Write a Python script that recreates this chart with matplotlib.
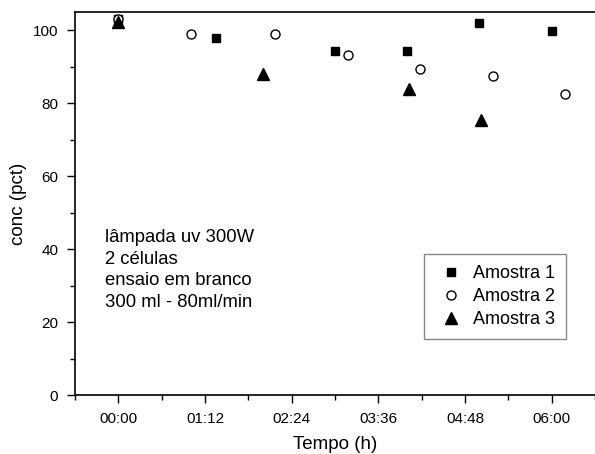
import matplotlib
matplotlib.use('Agg')
import matplotlib.pyplot as plt
from matplotlib.ticker import MultipleLocator, FuncFormatter

plt.rcParams['font.family'] = ['Liberation Sans', 'DejaVu Sans']

# tempo em horas, concentracao em pct
t1 = [0.0, 1.35, 3.0, 4.0, 5.0, 6.0]
a1 = [103.0, 97.9, 94.2, 94.2, 101.8, 99.8]

t2 = [0.0, 1.0, 2.17, 3.18, 4.18, 5.19, 6.19]
a2 = [103.0, 98.8, 98.8, 93.1, 89.3, 87.4, 82.6]

t3 = [0.0, 2.01, 4.02, 5.02]
a3 = [102.3, 88.0, 83.9, 75.5]

labels = ['Amostra 1', 'Amostra 2', 'Amostra 3']
nota = 'lâmpada uv 300W\n2 células\nensaio em branco\n300 ml - 80ml/min'


def hhmm(h, pos):
    m = int(round(h * 60))
    return '%02d:%02d' % (m // 60, m % 60)


fig = plt.figure(figsize=(5.95, 4.54), dpi=100)
ax = fig.add_axes([0.126, 0.129, 0.874, 0.845])

ax.plot(t1, a1, 's', color='black', markersize=6, label=labels[0])
ax.plot(t2, a2, 'o', markerfacecolor='white', markeredgecolor='black',
        markeredgewidth=1.0, markersize=6.5, label=labels[1])
ax.plot(t3, a3, '^', color='black', markersize=8, label=labels[2])

ax.set_xlim(-0.6, 6.6)
ax.set_ylim(0, 105)

ax.xaxis.set_major_locator(MultipleLocator(1.2))
ax.xaxis.set_minor_locator(MultipleLocator(0.6))
ax.xaxis.set_major_formatter(FuncFormatter(hhmm))
ax.yaxis.set_major_locator(MultipleLocator(20))
ax.yaxis.set_minor_locator(MultipleLocator(10))

ax.tick_params(which='major', direction='out', length=6, width=1.0, labelsize=11, pad=6)
ax.tick_params(which='minor', direction='out', length=3.5, width=1.0)
ax.tick_params(top=False, right=False)

ax.spines['right'].set_visible(False)
for s in ['left', 'bottom', 'top']:
    ax.spines[s].set_linewidth(1.2)

ax.set_xlabel('Tempo (h)', fontsize=13.5, labelpad=7)
ax.set_ylabel('conc (pct)', fontsize=13.5, labelpad=4)

fig.text(105 / 595, (454 - 229) / 454, nota, fontsize=13.3, va='top', ha='left',
         linespacing=1.36)

leg = ax.legend(loc='upper left', bbox_to_anchor=(424 / 595, (454 - 254) / 454),
                bbox_transform=fig.transFigure, borderaxespad=0, fontsize=13,
                fancybox=False, edgecolor='#888888', framealpha=1,
                handletextpad=0.3, labelspacing=0.35, borderpad=0.6,
                handlelength=1.8)
leg.get_frame().set_linewidth(1.0)

fig.savefig('out.png', dpi=100)
